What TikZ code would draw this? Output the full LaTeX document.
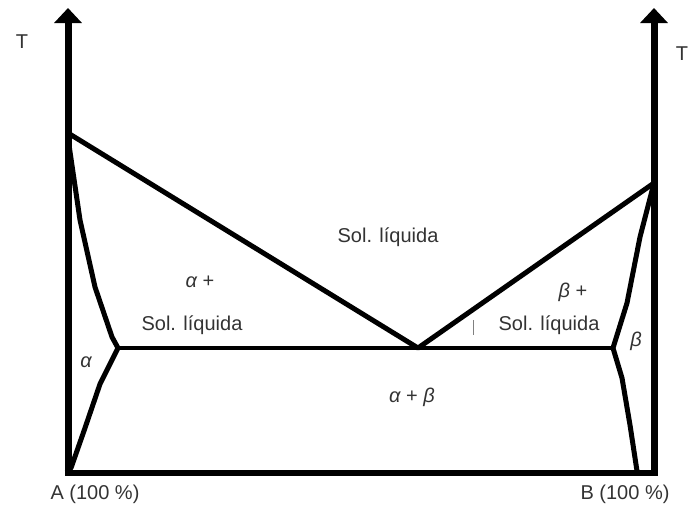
\documentclass[tikz,border=0pt]{standalone}
\usepackage{fontspec}
\setmainfont{Liberation Sans}
\usepackage{tikz}
\usetikzlibrary{arrows.meta}

\begin{document}
\begin{tikzpicture}[
    x=1pt, y=-1pt,
    every node/.style={font=\fontsize{20}{24}\selectfont, text=black!80, inner sep=0pt},
    axis/.style={line width=7pt, -{Triangle[width=27pt, length=15pt]}},
    phase/.style={line width=5pt, line join=round, line cap=round},
    tie/.style={line width=4pt},
    greek/.style={font=\fontsize{20}{24}\selectfont\itshape}
]
\useasboundingbox (0,0) rectangle (690,509);
% points of the diagram
\coordinate (A0) at (68, 473);
\coordinate (B0) at (654, 473);
\coordinate (Atop) at (68, 8);
\coordinate (Btop) at (654, 8);
\coordinate (mA) at (68, 133);
\coordinate (mB) at (654, 183);
\coordinate (eut) at (418, 348);
\coordinate (aE) at (118, 348);
\coordinate (bE) at (613, 348);
% axes
\draw[axis] (A0) -- (Atop);
\draw[axis] (B0) -- (Btop);
\draw[line width=6.5pt] ([xshift=-3.5pt]A0) -- ([xshift=3.5pt]B0);
% liquidus
\draw[phase] (mA) -- (eut) -- (mB);
% solidus and solvus, side A
\draw[phase] (69, 145) -- (80, 220) -- (95, 287) -- (112, 337) -- (aE)
    -- (100, 384) -- (85, 428) -- (71, 468);
% solidus and solvus, side B
\draw[phase] (mB) -- (640, 237) -- (627, 303) -- (bE)
    -- (622, 378) -- (630, 425) -- (637, 471);
% eutectic line
\draw[tie] (aE) -- (bE);
\draw[gray, line width=1pt] (473, 320) -- (473, 335);
% labels
\node (tA) at (22, 42) {T};
\node (tB) at (682, 54) {T};
\node (liq) at (388, 237) {Sol. líquida};
\node[greek] (aliq1) at (200, 282) {α \upshape+};
\node (aliq2) at (192, 325) {Sol. líquida};
\node[greek] (bliq1) at (573, 292) {β \upshape+};
\node (bliq2) at (549, 325) {Sol. líquida};
\node[greek] (alpha) at (86, 362) {α};
\node[greek] (beta) at (636, 341) {β};
\node[greek] (ab) at (412, 397) {α \upshape+ \itshape β};
\node (lA) at (95, 494) {A (100 \%)};
\node (lB) at (625, 494) {B (100 \%)};
\end{tikzpicture}
\end{document}
